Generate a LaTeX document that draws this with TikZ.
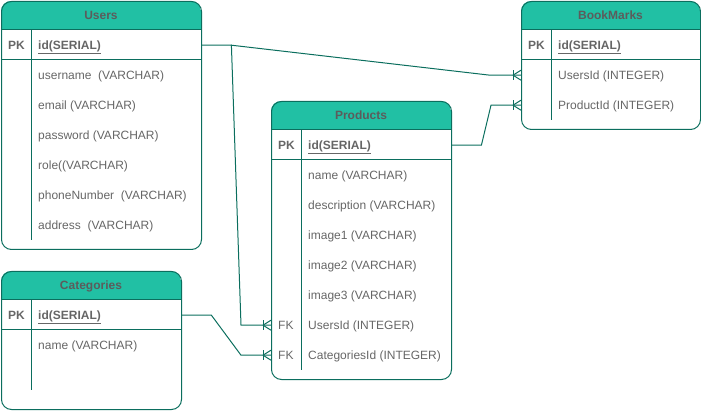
\documentclass[tikz,border=0pt]{standalone}
\usepackage{fontspec}
\setmainfont{Liberation Sans}
\definecolor{hdr}{HTML}{21C0A4}
\definecolor{edgec}{HTML}{0B6E5E}
\definecolor{txtc}{HTML}{666666}
\definecolor{ttlc}{HTML}{5C5C5C}
\tikzset{
  tablebox/.style={draw=edgec, line width=1pt, rounded corners=10pt, anchor=north west, inner sep=0pt},
  rowbox/.style={minimum height=30pt, inner sep=0pt, anchor=north west},
  keytxt/.style={anchor=west, inner sep=0pt, text=txtc, font=\fontsize{12}{14}\selectfont, text height=8.6pt, text depth=2.4pt, yshift=-1pt},
  fieldtxt/.style={anchor=west, inner sep=0pt, text=txtc, font=\fontsize{12}{14}\selectfont, text height=8.6pt, text depth=2.4pt, yshift=-1pt},
  titletxt/.style={inner sep=0pt, text=ttlc, font=\fontsize{12}{14}\selectfont\bfseries, text height=8.6pt, text depth=2.4pt},
  sepline/.style={draw=edgec, line width=1pt},
  conn/.style={draw=edgec, line width=1pt},
}
% #1 id, #2 x, #3 y, #4 w, #5 h, #6 title, #7 divider bottom (absolute y)
\newcommand{\ertable}[7]{%
  \begin{scope}
    \clip[rounded corners=10pt] (#2,#3) rectangle ++(#4,#5);
    \fill[hdr] (#2,#3) rectangle ++(#4,29);
  \end{scope}
  \node[tablebox, minimum width=#4pt, minimum height=#5pt] (#1) at (#2,#3) {};
  \node[titletxt] (#1-title) at (#2+#4/2,#3+15) {#6};
  \draw[sepline] (#2,#3+29) -- ++(#4,0);
  \draw[sepline] (#2,#3+59) -- ++(#4,0);
  \draw[sepline] (#2+30,#3+29) -- (#2+30,#7);
}
% #1 name, #2 x, #3 y(top), #4 w, #5 key, #6 text
\newcommand{\erfield}[6]{%
  \node[rowbox, minimum width=#4pt] (#1) at (#2,#3) {};
  \node[keytxt] (#1-k) at ([xshift=7pt]#1.west) {#5};
  \node[fieldtxt] (#1-t) at ([xshift=37pt]#1.west) {#6};
}
\newcommand{\crowfoot}[1]{%
  \draw[conn] ([xshift=-8pt,yshift=5pt]#1) -- ([xshift=-8pt,yshift=-5pt]#1);
  \draw[conn] ([xshift=-8pt]#1) -- ([yshift=5pt]#1);
  \draw[conn] ([xshift=-8pt]#1) -- ([yshift=-5pt]#1);
}
\newcommand{\pkid}{\textbf{\underline{id(SERIAL)}}}
\begin{document}
\begin{tikzpicture}[x=1pt,y=-1pt]
\useasboundingbox (0,0) rectangle (701,411);

% Users
\ertable{users}{1}{1}{200}{248}{Users}{240}
\erfield{users-id}{1}{30}{200}{\textbf{PK}}{\pkid}
\erfield{users-username}{1}{60}{200}{}{username\ \ (VARCHAR)}
\erfield{users-email}{1}{90}{200}{}{email (VARCHAR)}
\erfield{users-password}{1}{120}{200}{}{password (VARCHAR)}
\erfield{users-role}{1}{150}{200}{}{role((VARCHAR)}
\erfield{users-phone}{1}{180}{200}{}{phoneNumber\ \ (VARCHAR)}
\erfield{users-address}{1}{210}{200}{}{address\ \ (VARCHAR)}

% BookMarks
\ertable{bm}{521}{1}{179}{128}{BookMarks}{120}
\erfield{bm-id}{521}{30}{179}{\textbf{PK}}{\pkid}
\erfield{bm-uid}{521}{60}{179}{}{UsersId (INTEGER)}
\erfield{bm-pid}{521}{90}{179}{}{ProductId (INTEGER)}

% Products
\ertable{prod}{271}{101}{180}{278}{Products}{370}
\erfield{prod-id}{271}{130}{180}{\textbf{PK}}{\pkid}
\erfield{prod-name}{271}{160}{180}{}{name (VARCHAR)}
\erfield{prod-desc}{271}{190}{180}{}{description (VARCHAR)}
\erfield{prod-img1}{271}{220}{180}{}{image1 (VARCHAR)}
\erfield{prod-img2}{271}{250}{180}{}{image2 (VARCHAR)}
\erfield{prod-img3}{271}{280}{180}{}{image3 (VARCHAR)}
\erfield{prod-uid}{271}{310}{180}{FK}{UsersId (INTEGER)}
\erfield{prod-cid}{271}{340}{180}{FK}{CategoriesId (INTEGER)}

% Categories
\ertable{cat}{1}{271}{180}{138}{Categories}{390}
\erfield{cat-id}{1}{300}{180}{\textbf{PK}}{\pkid}
\erfield{cat-name}{1}{330}{180}{}{name (VARCHAR)}

% Connectors
\draw[conn] (users-id.east) -- ++(30,0) coordinate (u1) -- ([xshift=-30pt]prod-uid.west) -- (prod-uid.west);
\draw[conn] (u1) -- ([xshift=-31pt]bm-uid.west) -- (bm-uid.west);
\draw[conn] (prod-id.east) -- ++(30,0) -- ([xshift=-30pt]bm-pid.west) -- (bm-pid.west);
\draw[conn] (cat-id.east) -- ++(30,0) -- ([xshift=-30pt]prod-cid.west) -- (prod-cid.west);
\crowfoot{prod-uid.west}
\crowfoot{prod-cid.west}
\crowfoot{bm-uid.west}
\crowfoot{bm-pid.west}
\end{tikzpicture}
\end{document}
